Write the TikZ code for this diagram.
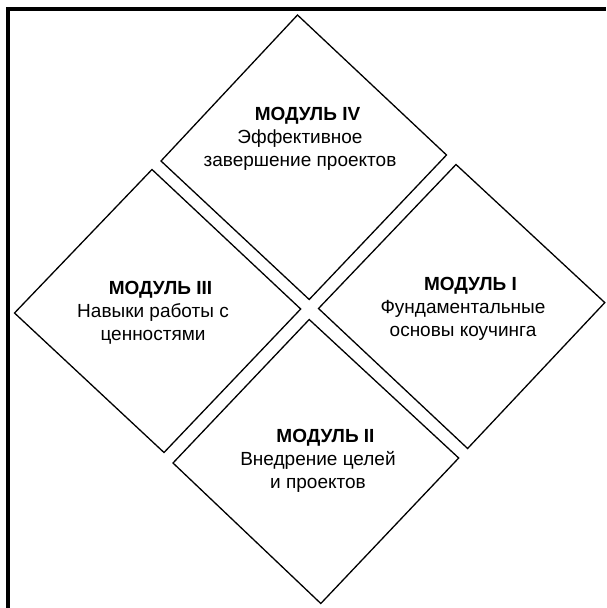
\documentclass[tikz,border=0pt]{standalone}
\usepackage{fontspec}
\setsansfont{Liberation Sans}
\usepackage{tikz}

\begin{document}
\begin{tikzpicture}[x=1pt, y=-1pt]
        \tikzset{every node/.style={font=\sffamily\fontsize{19}{23}\selectfont, align=center, inner sep=0pt, anchor=north},
                 modbox/.style={draw=black, line width=1.3pt, line join=miter}}
        \useasboundingbox (0,0) rectangle (606,608);

        % Frame (top and left sides)
        \draw[line width=4pt] (8,608) -- (8,9) -- (606,9);

        % Module IV (top)
        \draw[modbox] (297.5,15) -- (446.5,155) -- (309.2,299.5) -- (161,161) -- cycle;
        \node (mod4) at (300,107.5) {\hspace*{15pt}\textbf{МОДУЛЬ IV}\\Эффективное\\завершение проектов};

        % Module III (left)
        \draw[modbox] (152,169.5) -- (300.7,309) -- (164,452.5) -- (14.5,313) -- cycle;
        \node (mod3) at (153,281) {\hspace*{15pt}\textbf{МОДУЛЬ III}\\Навыки работы с\\ценностями};

        % Module I (right)
        \draw[modbox] (456,164.5) -- (604.8,302.6) -- (467.6,448.5) -- (318.5,308.5) -- cycle;
        \node (mod1) at (463,277.5) {\hspace*{15pt}\textbf{МОДУЛЬ I}\\Фундаментальные\\основы коучинга};

        % Module II (bottom)
        \draw[modbox] (309.2,319.5) -- (458.7,458) -- (320.8,603.5) -- (173,463) -- cycle;
        \node (mod2) at (318,429) {\hspace*{15pt}\textbf{МОДУЛЬ II}\\Внедрение целей\\и проектов};
\end{tikzpicture}
\end{document}
